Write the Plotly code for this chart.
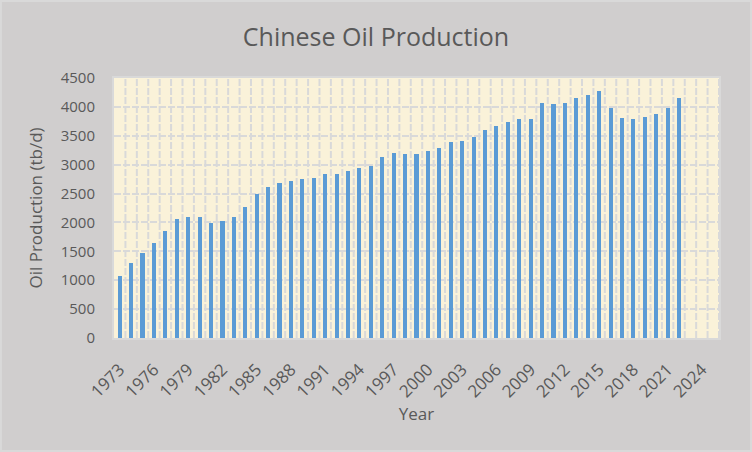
import plotly.graph_objects as go

years = list(range(1973, 2023))
production = [1074, 1300, 1475, 1649, 1858, 2067, 2102, 2102, 1997, 2032,
              2102, 2276, 2485, 2607, 2677, 2711, 2746, 2764, 2833, 2833,
              2886, 2938, 2973, 3129, 3199, 3182, 3182, 3234, 3286, 3391,
              3408, 3478, 3600, 3669, 3739, 3791, 3791, 4070, 4053, 4070,
              4157, 4209, 4279, 3983, 3809, 3791, 3826, 3878, 3983, 4157]
tick_years = list(range(1973, 2025, 3))

text_color = "#595959"
grid_color = "#D9D9D9"

fig = go.Figure()
fig.add_trace(go.Bar(x=years, y=production, width=0.36,
                     marker=dict(color="#5B9BD5", line=dict(width=0))))

# dashed vertical lines between the year slots
for b in range(1973, 2026):
    fig.add_shape(type="line", xref="x", yref="paper",
                  x0=b + 0.5, x1=b + 0.5, y0=0, y1=1, layer="below",
                  line=dict(color=grid_color, width=2, dash="7px,2px"))

fig.update_layout(
    width=752, height=452,
    paper_bgcolor="#D0CECE",
    plot_bgcolor="#FAF2D9",
    font=dict(family="Open Sans", color=text_color, size=15),
    title=dict(text="Chinese Oil Production", x=0.5, xanchor="center",
               y=0.918, yanchor="middle", font=dict(size=25, color=text_color)),
    margin=dict(l=114, r=33, t=78, b=114),
    showlegend=False,
    bargap=0,
)
fig.update_xaxes(range=[1972.5, 2025.5], tickmode="array", tickvals=tick_years,
                 ticktext=[str(y) for y in tick_years], tickangle=-45,
                 tickfont=dict(size=17), ticklabelstandoff=13,
                 showgrid=False, zeroline=False, ticks="",
                 title=dict(text="Year", font=dict(size=17), standoff=4),
                 showline=True, linecolor=grid_color, linewidth=2, mirror=True)
fig.update_yaxes(range=[0, 4500], dtick=500, tickformat="d",
                 gridcolor=grid_color, gridwidth=2, griddash="7px,2px",
                 zeroline=False, ticks="", ticklabelstandoff=14,
                 title=dict(text="Oil Production (tb/d)", font=dict(size=17), standoff=14),
                 showline=True, linecolor=grid_color, linewidth=2, mirror=True)

# light outer frame around the whole chart
fig.add_shape(type="rect", xref="paper", yref="paper", x0=-0.187, x1=1.053,
              y0=-0.435, y1=1.296, line=dict(color="#D9D9D9", width=2),
              layer="below")

fig.write_html("out.html", config={"displayModeBar": False},
               post_script="document.body.style.margin='0';")
